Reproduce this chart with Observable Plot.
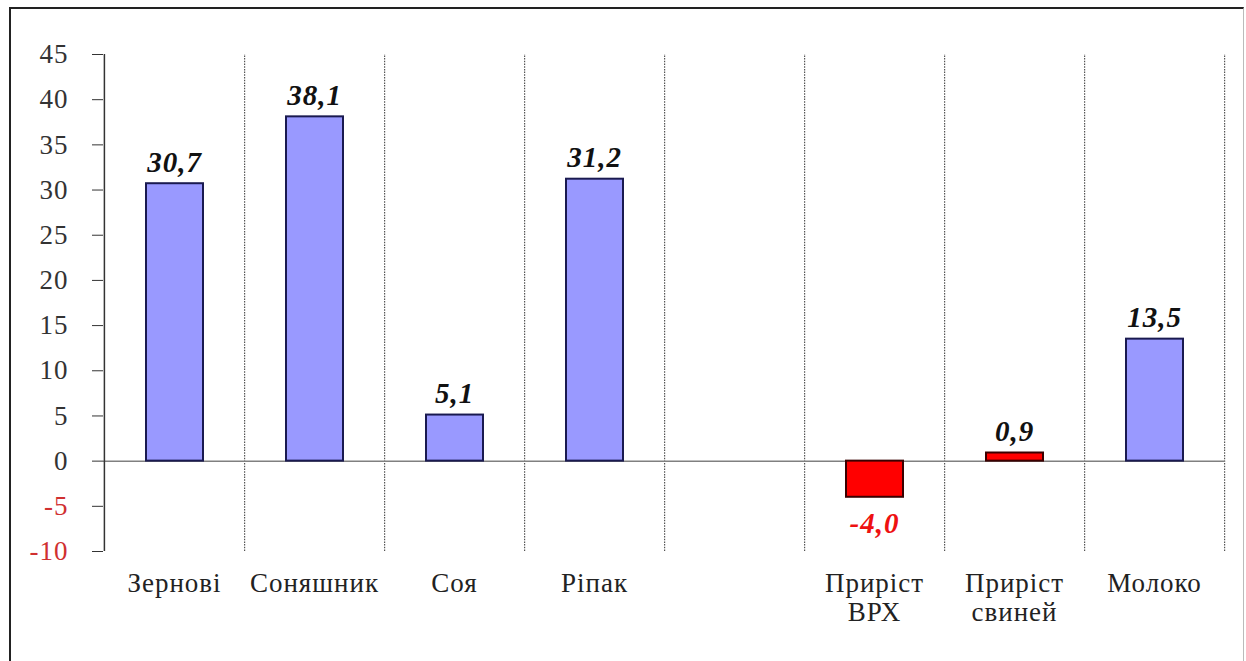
<!DOCTYPE html>
<html>
<head>
<meta charset="utf-8">
<script src="https://cdn.jsdelivr.net/npm/d3@7"></script>
<script src="https://cdn.jsdelivr.net/npm/@observablehq/plot@0.6"></script>
<style>
  html, body { margin: 0; padding: 0; background: #fff; }
  #wrap { position: relative; width: 1246px; height: 661px; overflow: hidden; }
  #frame { position: absolute; left: 9px; top: 7px; width: 1232px; height: 670px;
           border-left: 2px solid #222; border-top: 2px solid #222; border-right: 1px solid #bbb; }
  #chart { position: absolute; left: 0; top: 0; }
  #chart svg text { letter-spacing: 1px; font-family: "Liberation Serif", "Times New Roman", serif; }
</style>
</head>
<body>
<div id="wrap"><div id="frame"></div><div id="chart"></div></div>
<script>
const categories = ["Зернові", "Соняшник", "Соя", "Ріпак", " ", "Приріст\nВРХ", "Приріст\nсвиней", "Молоко"];
const values = [30.7, 38.1, 5.1, 31.2, null, -4.0, 0.9, 13.5];
const barColors = ["blue", "blue", "blue", "blue", null, "red", "red", "blue"];
const yTicks = [-10, -5, 0, 5, 10, 15, 20, 25, 30, 35, 40, 45];

const SERIF = "Liberation Serif";
const data = categories.map((c, i) => ({cat: c, value: values[i], color: barColors[i]}))
  .filter(d => d.value !== null);
const pos = data.filter(d => d.value >= 0);
const neg = data.filter(d => d.value < 0);
const fmt = v => v.toFixed(1).replace(".", ",");

const plot = Plot.plot({
  width: 1246,
  height: 661,
  marginLeft: 103,
  marginRight: 21,
  marginTop: 54,
  marginBottom: 110,
  style: {fontFamily: SERIF, background: "transparent", overflow: "visible"},
  x: {type: "band", domain: categories, padding: 0, label: null},
  y: {domain: [-10, 45], label: null},
  marks: [
    Plot.ruleX(categories, {x: d => d, dx: 70.1, y1: -10, y2: 45, stroke: "#555", strokeWidth: 1.2, strokeDasharray: "1.5,1.2"}),
    Plot.ruleY([0], {stroke: "#808080", strokeWidth: 1.5}),
    Plot.barY(data, {x: "cat", y: "value", insetLeft: 42, insetRight: 41,
      fill: d => d.color === "red" ? "#ff0000" : "#9999ff",
      stroke: d => d.color === "red" ? "#3a0000" : "#1a1a50", strokeWidth: 2}),
    Plot.text(pos, {x: "cat", y: "value", text: d => fmt(d.value), dy: -21, lineAnchor: "middle",
      fill: "#111", fontFamily: SERIF, fontSize: 29, fontWeight: "bold", fontStyle: "italic"}),
    Plot.text(neg, {x: "cat", y: "value", text: d => fmt(d.value), dy: 26, lineAnchor: "middle",
      fill: "#ee1111", fontFamily: SERIF, fontSize: 29, fontWeight: "bold", fontStyle: "italic"}),
    Plot.axisY({ticks: yTicks, tickSize: 11, tickPadding: 24, fontSize: 27, fontFamily: SERIF,
      stroke: "#333", fill: d => d < 0 ? "#d03030" : "#333", tickFormat: d => String(d)}),
    Plot.ruleX([categories[0]], {dx: -70.1, y1: -10, y2: 45, stroke: "#333", strokeWidth: 1.5}),
    Plot.axisX({tickSize: 0, tickPadding: 20, fontSize: 27, fontFamily: SERIF, lineHeight: 1.08, fill: "#222", label: null})
  ]
});
document.getElementById("chart").appendChild(plot);
</script>
</body>
</html>
